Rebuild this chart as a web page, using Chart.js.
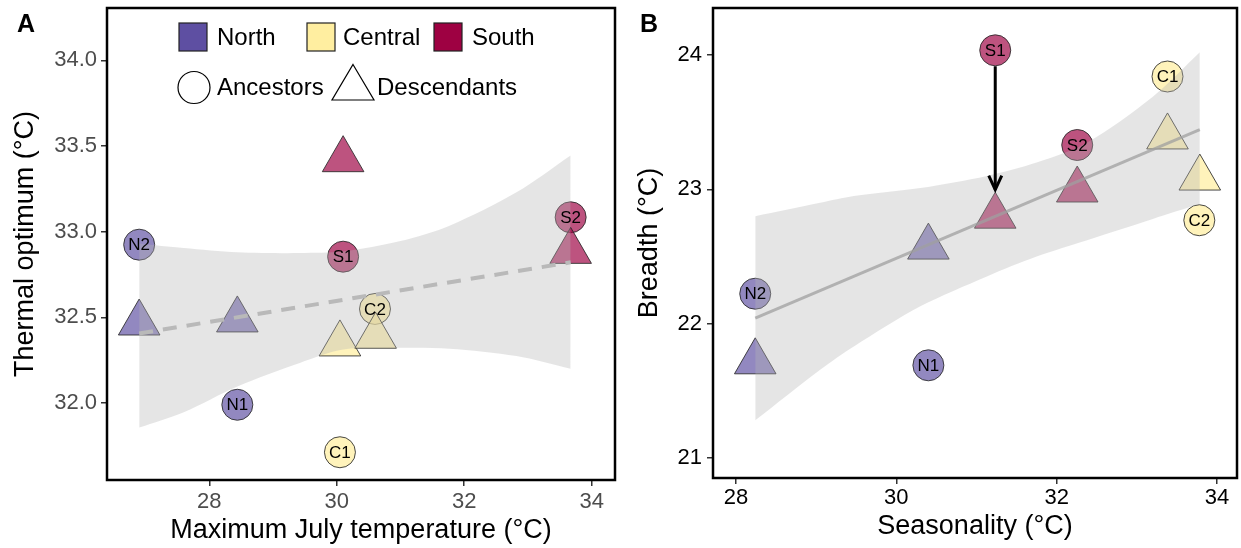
<!DOCTYPE html>
<html>
<head>
<meta charset="utf-8">
<script src="https://cdn.jsdelivr.net/npm/chart.js@4.4.1/dist/chart.umd.min.js"></script>
<style>
  body { margin: 0; background: #fff; width: 1241px; height: 548px; overflow: hidden; position: relative; }
  canvas { position: absolute; top: 0; }
  #chartA { left: 0; }
  #chartB { left: 620px; }
</style>
</head>
<body>
<canvas id="chartA" width="620" height="548"></canvas>
<canvas id="chartB" width="621" height="548"></canvas>
<script>
const FONT = "'Liberation Sans', Arial, Helvetica, sans-serif";

// shared
const regions = ['North', 'Central', 'South'];
const siteLabels = ['N1', 'N2', 'C1', 'C2', 'S1', 'S2'];
const siteRegion = ['North', 'North', 'Central', 'Central', 'South', 'South'];
const descRegion = ['North', 'North', 'Central', 'Central', 'South', 'South'];

// Panel A: thermal optimum vs max July temperature
const ancXA = [28.44, 26.90, 30.05, 30.60, 30.10, 33.67];
const ancYA = [31.99, 32.924, 31.713, 32.549, 32.854, 33.084];
const descXA = [26.90, 28.44, 30.05, 30.61, 30.10, 33.67];
const descYA = [32.467, 32.485, 32.345, 32.39, 33.42, 32.885];
const fitXA = [26.90, 33.67];
const fitYA = [32.406, 32.821];
const bandXA = [26.90, 27.6, 28.44, 29.42, 30.10, 31.0, 31.77, 32.82, 33.67];
const bandHiA = [32.93, 32.905, 32.88, 32.875, 32.885, 32.945, 33.035, 33.23, 33.445];
const bandLoA = [31.857, 31.947, 32.097, 32.234, 32.312, 32.322, 32.317, 32.274, 32.2];
const xTicksA = [28, 30, 32, 34];
const yTicksA = [32.0, 32.5, 33.0, 33.5, 34.0];
const xRangeA = [26.395, 34.366];
const yRangeA = [31.551, 34.305];

// Panel B: breadth vs seasonality
const ancXB = [30.40, 28.24, 33.383, 33.78, 31.234, 32.257];
const ancYB = [21.69, 22.223, 23.84, 22.77, 24.035, 23.33];
const descXB = [30.40, 28.24, 33.383, 33.786, 31.234, 32.257];
const descYB = [22.57, 21.716, 23.39, 23.084, 22.80, 22.995];
const fitXB = [28.24, 33.786];
const fitYB = [22.042, 23.445];
const bandXB = [28.24, 29.05, 29.47, 30.3, 31.13, 31.75, 32.37, 33.2, 33.786];
const bandHiB = [22.80, 22.90, 22.95, 23.01, 23.10, 23.20, 23.345, 23.69, 24.02];
const bandLoB = [21.28, 21.657, 21.83, 22.129, 22.352, 22.50, 22.62, 22.78, 22.89];
const arrowXB = [31.234, 31.234];
const arrowYB = [23.916, 22.997];
const xTicksB = [28, 30, 32, 34];
const yTicksB = [21, 22, 23, 24];
const xRangeB = [27.713, 34.25];
const yRangeB = [20.851, 24.35];

// colours
const solidColor = { North: '#5E4FA2', Central: '#FFEEA0', South: '#9E0142' };
const pointColor = {
  North: 'rgba(94,79,162,0.68)',
  Central: 'rgba(255,236,150,0.65)',
  South: 'rgba(158,1,66,0.68)'
};
const edgeColor = 'rgba(40,40,40,0.85)';

const toXY = (xs, ys) => xs.map((x, i) => ({ x: x, y: ys[i] }));

// box around the panel + panel letter
const framePlugin = {
  id: 'frame',
  afterDraw(chart, args, opts) {
    const { ctx, chartArea: a } = chart;
    ctx.save();
    ctx.lineWidth = 2.5;
    ctx.strokeStyle = '#000';
    ctx.strokeRect(a.left, a.top, a.right - a.left, a.bottom - a.top);
    ctx.fillStyle = '#000';
    ctx.font = 'bold 25px ' + FONT;
    ctx.textAlign = 'left';
    ctx.textBaseline = 'alphabetic';
    ctx.fillText(opts.letter, opts.letterX, 32);
    ctx.restore();
  }
};

// N1, N2 ... inside the circles
const siteLabelPlugin = {
  id: 'siteLabels',
  afterDatasetsDraw(chart, args, opts) {
    const ctx = chart.ctx;
    const meta = chart.getDatasetMeta(opts.datasetIndex);
    ctx.save();
    ctx.font = '17px ' + FONT;
    ctx.fillStyle = '#000';
    ctx.textAlign = 'center';
    ctx.textBaseline = 'middle';
    meta.data.forEach((pt, i) => {
      ctx.fillText(siteLabels[i], pt.x, pt.y + 1);
    });
    ctx.restore();
  }
};

// open arrow head at the end of the arrow dataset
const arrowPlugin = {
  id: 'arrowHead',
  afterDatasetsDraw(chart, args, opts) {
    const meta = chart.getDatasetMeta(opts.datasetIndex);
    const tip = meta.data[meta.data.length - 1];
    const ctx = chart.ctx;
    ctx.save();
    ctx.strokeStyle = '#000';
    ctx.lineWidth = 3;
    ctx.lineJoin = 'miter';
    ctx.beginPath();
    ctx.moveTo(tip.x - 6.5, tip.y - 14);
    ctx.lineTo(tip.x, tip.y);
    ctx.lineTo(tip.x + 6.5, tip.y - 14);
    ctx.stroke();
    ctx.restore();
  }
};

// legend of panel A
const legendPlugin = {
  id: 'customLegend',
  afterDraw(chart) {
    const ctx = chart.ctx;
    ctx.save();
    ctx.font = '24px ' + FONT;
    ctx.textBaseline = 'middle';
    ctx.textAlign = 'left';
    ctx.lineWidth = 1.2;
    ctx.strokeStyle = '#222';
    const boxX = [179, 307, 434];
    const textX = [217, 343, 472];
    regions.forEach((r, i) => {
      ctx.fillStyle = solidColor[r];
      ctx.fillRect(boxX[i], 23, 28, 28);
      ctx.strokeRect(boxX[i], 23, 28, 28);
      ctx.fillStyle = '#000';
      ctx.fillText(r, textX[i], 38);
    });
    // shapes
    ctx.strokeStyle = '#000';
    ctx.fillStyle = '#fff';
    ctx.beginPath();
    ctx.arc(194, 87.5, 16, 0, Math.PI * 2);
    ctx.fill();
    ctx.stroke();
    ctx.beginPath();
    ctx.moveTo(353, 64.5);
    ctx.lineTo(374, 100);
    ctx.lineTo(332, 100);
    ctx.closePath();
    ctx.fill();
    ctx.stroke();
    ctx.fillStyle = '#000';
    ctx.fillText('Ancestors', 217, 88.5);
    ctx.fillText('Descendants', 377, 88.5);
    ctx.restore();
  }
};

function makeScale(range, ticks, fmt, fixedSize, tickColor, title, titlePad, tickPad) {
  return {
    type: 'linear',
    min: range[0],
    max: range[1],
    afterBuildTicks: (s) => { s.ticks = ticks.map((v) => ({ value: v })); },
    afterFit: (s) => {
      if (s.isHorizontal()) s.height = fixedSize; else s.width = fixedSize;
      s.paddingTop = 0; s.paddingBottom = 0; s.paddingLeft = 0; s.paddingRight = 0;
    },
    grid: { display: true, drawOnChartArea: false, drawTicks: true, tickLength: 6, color: '#333', lineWidth: 1.5 },
    border: { display: false },
    ticks: {
      color: tickColor,
      font: { size: 22, family: FONT },
      padding: tickPad,
      autoSkip: false,
      maxRotation: 0,
      callback: fmt
    },
    title: {
      display: true,
      text: title,
      color: '#000',
      font: { size: 27, family: FONT },
      padding: titlePad
    }
  };
}

function buildPanel(canvasId, d) {
  const datasets = [];
  if (d.arrow) {
    datasets.push({
      type: 'line', data: toXY(d.arrow[0], d.arrow[1]),
      borderColor: '#000', borderWidth: 3, pointRadius: 0, fill: false
    });
  }
  datasets.push({
    type: 'line', data: toXY(d.fitX, d.fitY),
    borderColor: d.fitColor, borderWidth: d.fitWidth, borderDash: d.fitDash,
    pointRadius: 0, fill: false
  });
  datasets.push({
    type: 'line', data: toXY(d.bandX, d.bandHi),
    borderWidth: 0, borderColor: 'rgba(0,0,0,0)', pointRadius: 0, tension: 0.3,
    fill: '+1', backgroundColor: 'rgba(180,180,180,0.35)'
  });
  datasets.push({
    type: 'line', data: toXY(d.bandX, d.bandLo),
    borderWidth: 0, borderColor: 'rgba(0,0,0,0)', pointRadius: 0, tension: 0.3, fill: false
  });
  datasets.push({
    type: 'scatter', data: toXY(d.descX, d.descY),
    pointStyle: 'triangle', pointRadius: 24,
    backgroundColor: descRegion.map((r) => pointColor[r]),
    borderColor: edgeColor, borderWidth: 1
  });
  datasets.push({
    type: 'scatter', data: toXY(d.ancX, d.ancY),
    pointStyle: 'circle', pointRadius: 15.5,
    backgroundColor: siteRegion.map((r) => pointColor[r]),
    borderColor: edgeColor, borderWidth: 1
  });
  const ancIndex = datasets.length - 1;

  const plugins = [framePlugin, siteLabelPlugin];
  if (d.arrow) plugins.push(arrowPlugin);
  if (d.legend) plugins.push(legendPlugin);

  return new Chart(document.getElementById(canvasId), {
    type: 'scatter',
    data: { datasets: datasets },
    options: {
      responsive: false,
      animation: false,
      devicePixelRatio: 1,
      // big markers would otherwise push the frame inwards
      layout: { autoPadding: false, padding: { top: 8, right: d.padRight, left: 0, bottom: 0 } },
      plugins: {
        legend: { display: false },
        tooltip: { enabled: false },
        frame: { letter: d.letter, letterX: d.letterX },
        siteLabels: { datasetIndex: ancIndex },
        arrowHead: { datasetIndex: 0 }
      },
      scales: {
        x: makeScale(d.xRange, d.xTicks, (v) => String(v), d.xAxisH, d.tickColor, d.xTitle, d.xTitlePad, d.xTickPad),
        y: makeScale(d.yRange, d.yTicks, d.yFmt, d.yAxisW, d.tickColor, d.yTitle, d.yTitlePad, d.yTickPad)
      }
    },
    plugins: plugins
  });
}

buildPanel('chartA', {
  letter: 'A', letterX: 17, legend: true, arrow: null,
  ancX: ancXA, ancY: ancYA, descX: descXA, descY: descYA,
  fitX: fitXA, fitY: fitYA, fitColor: 'rgba(185,185,185,1)', fitWidth: 4, fitDash: [14, 10],
  bandX: bandXA, bandHi: bandHiA, bandLo: bandLoA,
  xRange: xRangeA, yRange: yRangeA, xTicks: xTicksA, yTicks: yTicksA,
  yFmt: (v) => Number(v).toFixed(1),
  tickColor: '#4d4d4d', padRight: 5, xAxisH: 68, yAxisW: 107,
  xTitle: 'Maximum July temperature (°C)', yTitle: 'Thermal optimum (°C)',
  xTitlePad: { top: 0, bottom: 1 }, yTitlePad: { top: 9, bottom: 0 },
  xTickPad: 3, yTickPad: 4
});

buildPanel('chartB', {
  letter: 'B', letterX: 20, legend: false, arrow: [arrowXB, arrowYB],
  ancX: ancXB, ancY: ancYB, descX: descXB, descY: descYB,
  fitX: fitXB, fitY: fitYB, fitColor: 'rgba(160,160,160,0.75)', fitWidth: 3, fitDash: [],
  bandX: bandXB, bandHi: bandHiB, bandLo: bandLoB,
  xRange: xRangeB, yRange: yRangeB, xTicks: xTicksB, yTicks: yTicksB,
  yFmt: (v) => String(v),
  tickColor: '#000', padRight: 4, xAxisH: 70, yAxisW: 93,
  xTitle: 'Seasonality (°C)', yTitle: 'Breadth (°C)',
  xTitlePad: { top: 0, bottom: 5 }, yTitlePad: { top: 13, bottom: 0 },
  xTickPad: 1, yTickPad: 5
});
</script>
</body>
</html>
